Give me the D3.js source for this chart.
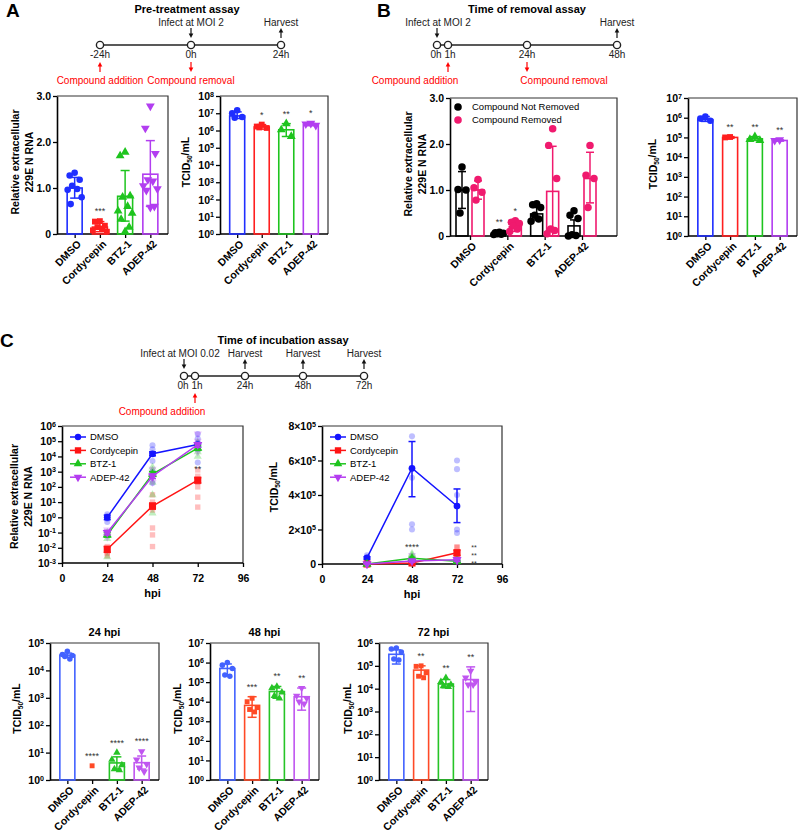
<!DOCTYPE html>
<html>
<head>
<meta charset="utf-8">
<script src="https://cdn.jsdelivr.net/npm/d3@7"></script>
<style>
  body { margin: 0; background: #fff; }
  svg { font-family: "Liberation Sans", Arial, Helvetica, sans-serif; }
</style>
</head>
<body>
<div id="fig"></div>
<script>
// ---------------- data ----------------
const treatments = ["DMSO", "Cordycepin", "BTZ-1", "ADEP-42"];
const markers = ["circle", "square", "up", "down"];
const hpi = [24, 48, 72];

// A - pre-treatment assay
const preRnaMean = [1.0, 0.15, 0.82, 1.3];
const preRnaLo = [0.78, 0.05, 0.28, 0.6];
const preRnaHi = [1.23, 0.27, 1.38, 2.03];
const preRnaPts = [
  [1.33, 1.27, 1.18, 1.05, 0.98, 0.96, 0.8, 0.65],
  [0.28, 0.27, 0.18, 0.15, 0.12, 0.08, 0.05],
  [1.78, 1.7, 0.83, 0.8, 0.6, 0.5, 0.45, 0.32, 0.15, 0.05],
  [2.78, 2.3, 1.75, 1.18, 1.15, 1.05, 0.98, 0.95, 0.6, 0.58]
];
const preRnaSig = ["", "***", "", ""];

const preTcidMean = [7e6, 1.6e6, 1.1e6, 2.2e6];
const preTcidLo = [5e6, 1.2e6, 4.5e5, 1.9e6];
const preTcidHi = [1.2e7, 2.2e6, 2.5e6, 2.6e6];
const preTcidPts = [
  [1.5e7, 1e7, 6e6, 5.5e6],
  [2.2e6, 1.7e6, 1.4e6, 1.5e6],
  [2.5e6, 1.1e6, 4.5e5],
  [2.6e6, 2.4e6, 2e6]
];
const preTcidSig = ["", "*", "**", "*"];

// B - time of removal assay
const removalGroups = ["Compound Not Removed", "Compound Removed"];
const notRemMean = [1.0, 0.05, 0.48, 0.22];
const notRemLo = [0.6, 0.03, 0.35, 0.0];
const notRemHi = [1.4, 0.07, 0.62, 0.35];
const notRemPts = [
  [1.5, 1.01, 1.0, 0.5],
  [0.08, 0.07, 0.06, 0.05, 0.04, 0.03],
  [0.7, 0.68, 0.62, 0.45, 0.37, 0.32],
  [0.55, 0.45, 0.38, 0.03, 0.01, 0.0]
];
const notRemSig = ["", "**", "", ""];
const remMean = [1.0, 0.2, 0.97, 1.25];
const remLo = [0.8, 0.1, 0.0, 0.72];
const remHi = [1.2, 0.3, 1.95, 1.82];
const remPts = [
  [1.23, 1.05, 0.95, 0.78],
  [0.33, 0.3, 0.27, 0.22, 0.15, 0.1],
  [2.33, 1.97, 1.25, 0.15, 0.12, 0.05],
  [1.97, 1.32, 1.25, 0.62]
];
const remSig = ["", "*", "", ""];

const remTcidMean = [8e5, 1e5, 8.5e4, 7e4];
const remTcidLo = [6.5e5, 9e4, 7e4, 6.5e4];
const remTcidHi = [1.15e6, 1.1e5, 1.1e5, 7.5e4];
const remTcidPts = [
  [1.15e6, 9e5, 7e5],
  [1.05e5, 1e5],
  [1.1e5, 8e4, 7e4],
  [7.5e4, 7e4]
];
const remTcidSig = ["", "**", "**", "**"];

// C - time of incubation assay, RNA kinetics
const rnaLineMean = [[1.0, 1.5e4, 6e4], [0.008, 5.5, 280], [0.07, 700, 3.5e4], [0.1, 500, 6e4]];
const rnaLineLo = [[0.7, 1.1e4, 4e4], [0.005, 3.5, 180], [0.05, 500, 2.5e4], [0.07, 350, 4e4]];
const rnaLineHi = [[1.4, 2e4, 8e4], [0.012, 8.5, 400], [0.1, 1000, 5e4], [0.14, 700, 8e4]];
const rnaLinePts = [
  [[1.6, 1.2, 0.8, 0.5], [5.5e4, 3e4, 1.5e4, 5e3, 1e3, 180], [3e5, 1.5e5, 8e4, 3e4, 4e3]],
  [[0.012, 0.008, 0.0045, 0.003], [30, 10, 3, 0.2, 0.07, 0.012], [1300, 500, 200, 100, 21, 4.7]],
  [[0.1, 0.07, 0.04, 0.0025], [2000, 1200, 600, 200, 30, 1.9], [8e4, 4e4, 2e4, 1e4]],
  [[0.15, 0.1, 0.07, 0.05], [1500, 800, 400, 200], [3e5, 1e5, 5e4, 2e4]]
];

// C - TCID50 kinetics
const tcidLineMean = [[3.6e4, 5.55e5, 3.36e5], [3.3, 6e3, 6.5e4], [4.2, 3.3e4, 1.6e4], [4.3, 1.8e4, 2.5e4]];
const tcidLineLo = [[2.8e4, 3.9e5, 2.4e5], [0, 2e3, 5e4], [1e3, 2.5e4, 1.2e4], [500, 1e4, 1.5e4]];
const tcidLineHi = [[4.2e4, 7.1e5, 4.35e5], [5, 1e4, 8e4], [5e3, 4e4, 2e4], [3e3, 2.5e4, 3.5e4]];

// C - TCID50 per harvest time
const tcid24Mean = [3.6e4, null, 4.2, 4.3];
const tcid24Lo = [3e4, null, 2.5, 2.5];
const tcid24Hi = [4.3e4, null, 7, 7.5];
const tcid24Pts = [[5e4, 3.8e4, 3.5e4, 3.2e4, 2.6e4], [3.3], [10, 5.5, 3.5, 2.5, 2.3], [11, 5.5, 3.8, 2.8, 2]];
const tcid24Sig = ["", "****", "****", "****"];

const tcid48Mean = [5e5, 6.5e3, 3.3e4, 1.8e4];
const tcid48Lo = [2.2e5, 1.6e3, 1.5e4, 3.7e3];
const tcid48Hi = [8.5e5, 1.8e4, 6e4, 5e4];
const tcid48Pts = [[1.0e6, 7.4e5, 5e5, 2.3e5, 2e5], [1.5e4, 1e4, 5e3, 4e3, 3e3], [6e4, 5e4, 3e4, 2e4, 1.5e4], [5e4, 2e4, 1.5e4, 1e4, 8e3]];
const tcid48Sig = ["", "***", "**", "**"];

const tcid72Mean = [3.2e5, 6.5e4, 1.6e4, 2.5e4];
const tcid72Lo = [1.2e5, 3.5e4, 1.1e4, 1e3];
const tcid72Hi = [5e5, 1e5, 2.5e4, 9e4];
const tcid72Pts = [[6e5, 5.5e5, 4e5, 2e5, 1.8e5], [1e5, 9.5e4, 5e4, 3.5e4, 3e4], [3e4, 2e4, 1.5e4, 1.3e4, 1.2e4], [6e4, 3e4, 2e4, 1.5e4, 1.5e4]];
const tcid72Sig = ["", "**", "**", "**"];

const tcidByHpi = [tcid24Pts, tcid48Pts, tcid72Pts];

// ---------------- styles ----------------
const colTop = ["#1f2eff", "#ff1f1f", "#1ec41e", "#b23ef0"];
const colBottom = ["#4262ff", "#ff4a26", "#26c426", "#c056f0"];
const colLine = ["#1414ff", "#ff1414", "#1ec41e", "#b43cf0"];
const colRemoval = ["#000000", "#f01a6e"];
const JIT = [0, -5, 5, -2.5, 2.5, -7, 7, -4, 4, 0];

const svg = d3.select("#fig").append("svg").attr("width", 799).attr("height", 840);

function mark(g, type, x, y, size, col, op) {
  const s = type === "circle" ? d3.symbolCircle : type === "square" ? d3.symbolSquare : d3.symbolTriangle;
  g.append("path")
    .attr("d", d3.symbol(s, size)())
    .attr("transform", `translate(${x},${y})` + (type === "down" ? " rotate(180)" : ""))
    .attr("fill", col)
    .attr("fill-opacity", op == null ? 1 : op);
}

function whisker(g, x, y0, y1, col, cap) {
  g.append("line").attr("x1", x).attr("x2", x).attr("y1", y0).attr("y2", y1)
    .attr("stroke", col).attr("stroke-width", 1.5);
  [y0, y1].forEach(v => g.append("line").attr("x1", x - cap / 2).attr("x2", x + cap / 2)
    .attr("y1", v).attr("y2", v).attr("stroke", col).attr("stroke-width", 1.5));
}

function logLabel(t, v) {
  const e = Math.round(Math.log10(v));
  t.append("tspan").text("10");
  t.append("tspan").attr("dy", "-0.5em").attr("font-size", "0.68em").text(e);
}
function linLabel(t, v) { t.text(v === 0 ? "0" : v.toFixed(1)); }
function sciLabel(t, v) {
  if (v === 0) { t.text("0"); return; }
  t.append("tspan").text((v / 1e5) + "\u00d710");
  t.append("tspan").attr("dy", "-0.5em").attr("font-size", "0.68em").text("5");
}

function tcidTitle(g, x, y) {
  const t = g.append("text").attr("transform", `translate(${x},${y}) rotate(-90)`)
    .attr("text-anchor", "middle").attr("font-weight", "bold").attr("font-size", 10.5);
  t.append("tspan").text("TCID");
  t.append("tspan").attr("dy", "0.3em").attr("font-size", "0.62em").text("50");
  t.append("tspan").attr("dy", "-0.3em").text("/mL");
}
function rnaTitle(g, x1, x2, y) {
  ["Relative extracellular", "229E N RNA"].forEach((s, i) =>
    g.append("text").attr("transform", `translate(${i ? x2 : x1},${y}) rotate(-90)`)
      .attr("text-anchor", "middle").attr("font-weight", "bold").attr("font-size", 10.5).text(s));
}

function frame(g, w, h) {
  g.append("path").attr("d", `M0,0H${w}V${h}`).attr("fill", "none")
    .attr("stroke", "#333").attr("stroke-width", 1.2);
  g.append("line").attr("x1", 0).attr("x2", w).attr("y1", h).attr("y2", h)
    .attr("stroke", "#000").attr("stroke-width", 1.6);
}

function leftAxis(g, y, ticks, fmt) {
  const a = g.append("g").call(d3.axisLeft(y).tickValues(ticks).tickSize(4).tickSizeOuter(0).tickFormat(""));
  a.select(".domain").attr("stroke", "#000").attr("stroke-width", 1.6);
  a.selectAll(".tick line").attr("stroke", "#000").attr("stroke-width", 1.3);
  a.selectAll(".tick").each(function (d) {
    const t = d3.select(this).append("text").attr("x", -6).attr("dy", "0.35em")
      .attr("text-anchor", "end").attr("font-weight", "bold").attr("font-size", 10.5).attr("fill", "#000");
    fmt(t, d);
  });
}

// bar + scatter chart with one or two series per treatment
function barChart(o) {
  const g = svg.append("g").attr("transform", `translate(${o.left},${o.top})`);
  const x = d3.scalePoint().domain(treatments).range(o.xRange || [0, o.w]).padding(o.xRange ? 0 : 0.7);
  const y = o.log ? d3.scaleLog().domain(o.domain).range([o.h, 0])
                  : d3.scaleLinear().domain(o.domain).range([o.h, 0]);
  frame(g, o.w, o.h);
  leftAxis(g, y, o.ticks, o.fmt);

  const xa = g.append("g").attr("transform", `translate(0,${o.h})`)
    .call(d3.axisBottom(x).tickSize(4).tickSizeOuter(0).tickFormat(""));
  xa.select(".domain").remove();
  xa.selectAll(".tick line").attr("stroke", "#000").attr("stroke-width", 1.3);
  xa.selectAll(".tick").append("text")
    .attr("transform", "translate(4,8) rotate(-45)").attr("text-anchor", "end").attr("dy", "0.35em")
    .attr("font-weight", "bold").attr("font-size", 10.5).attr("fill", "#000").text(d => d);

  const lowest = o.domain[0];
  o.series.forEach(s => {
    treatments.forEach((c, i) => {
      const cx = x(c) + (s.dx || 0);
      const col = s.colors ? s.colors[i] : s.color;
      const mk = s.markers ? s.markers[i] : "circle";
      if (s.mean[i] != null) {
        const yt = y(s.mean[i]);
        g.append("rect").attr("x", cx - s.bw / 2).attr("y", yt).attr("width", s.bw)
          .attr("height", o.h - yt).attr("fill", "none").attr("stroke", col).attr("stroke-width", 1.6);
        whisker(g, cx, y(Math.max(s.lo[i], lowest)), y(s.hi[i]), col, s.cap || 9);
      }
      s.pts[i].forEach((v, k) => mark(g, mk, cx + JIT[k % JIT.length] * (s.jit || 1),
        y(Math.max(v, lowest)), s.size, col));
      if (s.sig[i]) {
        const top = d3.max([s.hi[i] || 0, d3.max(s.pts[i])]);
        g.append("text").attr("x", cx).attr("y", y(top) - 7).attr("text-anchor", "middle")
          .attr("font-size", 9).attr("fill", "#333").text(s.sig[i]);
      }
    });
  });

  if (o.ylab === "tcid") tcidTitle(g, o.ylabX, o.h / 2 - 3);
  else rnaTitle(g, o.ylabX, o.ylabX + 14, o.h / 2 - 3);
  if (o.title) g.append("text").attr("x", o.w / 2).attr("y", -7).attr("text-anchor", "middle")
    .attr("font-weight", "bold").attr("font-size", 11).text(o.title);
  return { g, x, y };
}

// kinetics line chart
function lineChart(o) {
  const g = svg.append("g").attr("transform", `translate(${o.left},${o.top})`);
  const x = d3.scaleLinear().domain([0, 96]).range([0, o.w]);
  const y = o.log ? d3.scaleLog().domain(o.domain).range([o.h, 0])
                  : d3.scaleLinear().domain(o.domain).range([o.h, 0]);
  const clipId = "clip" + o.left;
  g.append("clipPath").attr("id", clipId).append("rect").attr("x", -6).attr("y", -2)
    .attr("width", o.w + 12).attr("height", o.h + 8);
  frame(g, o.w, o.h);
  leftAxis(g, y, o.ticks, o.fmt);
  const xa = g.append("g").attr("transform", `translate(0,${o.h})`)
    .call(d3.axisBottom(x).tickValues([0, 24, 48, 72, 96]).tickSize(4).tickSizeOuter(0));
  xa.select(".domain").remove();
  xa.selectAll(".tick line").attr("stroke", "#000").attr("stroke-width", 1.3);
  xa.selectAll(".tick text").attr("font-weight", "bold").attr("font-size", 10.5)
    .attr("font-family", "inherit").attr("fill", "#000").attr("dy", "1.1em");
  g.append("text").attr("x", x(48)).attr("y", o.h + 34).attr("text-anchor", "middle")
    .attr("font-weight", "bold").attr("font-size", 11).text("hpi");

  const lo = o.domain[0];
  const body = g.append("g").attr("clip-path", `url(#${clipId})`);
  // faded replicate points
  treatments.forEach((c, i) => {
    hpi.forEach((h, j) => o.pts(i, j).forEach(v =>
      mark(body, markers[i], x(h), y(Math.max(v, lo)), o.size * 0.8, colLine[i], 0.28)));
  });
  treatments.forEach((c, i) => {
    const line = d3.line().x((d, j) => x(hpi[j])).y(d => y(Math.max(d, lo)));
    body.append("path").attr("d", line(o.mean[i])).attr("fill", "none")
      .attr("stroke", colLine[i]).attr("stroke-width", 1.5);
    hpi.forEach((h, j) => {
      whisker(body, x(h), y(Math.max(o.lo[i][j], lo)), y(o.hi[i][j]), colLine[i], 7);
      mark(body, markers[i], x(h), y(Math.max(o.mean[i][j], lo)), i === 1 ? o.size * 1.4 : o.size, colLine[i]);
    });
  });
  // legend
  treatments.forEach((c, i) => {
    const ly = 11 + i * 13.4;
    g.append("line").attr("x1", 8).attr("x2", 24).attr("y1", ly).attr("y2", ly)
      .attr("stroke", colLine[i]).attr("stroke-width", 1.5);
    mark(g, markers[i], 16, ly, i === 1 ? 40 : 32, colLine[i]);
    g.append("text").attr("x", 28).attr("y", ly).attr("dy", "0.35em").attr("font-size", 9.5).text(c);
  });
  if (o.ylab === "tcid") tcidTitle(g, o.ylabX, o.h / 2 - 8);
  else rnaTitle(g, o.ylabX, o.ylabX + 14, o.h / 2 + 2);
  return { g, x, y };
}

// experiment timelines
function arrow(g, x, ya, yb, up, col) {
  g.append("line").attr("x1", x).attr("x2", x).attr("y1", up ? yb : ya).attr("y2", up ? ya + 3 : yb - 3)
    .attr("stroke", col).attr("stroke-width", 1.2);
  const tip = up ? ya : yb, s = up ? 1 : -1;
  g.append("path").attr("d", `M${x},${tip}L${x - 2.3},${tip + 4.5 * s}L${x + 2.3},${tip + 4.5 * s}Z`).attr("fill", col);
}

function timeline(c) {
  const g = svg.append("g");
  const t = d3.scaleLinear().domain(c.hours).range(c.pos);
  const y0 = c.y;
  g.append("text").attr("x", c.titleX).attr("y", y0 - 32).attr("text-anchor", "middle")
    .attr("font-weight", "bold").attr("font-size", 11).text(c.title);
  g.append("line").attr("x1", t(c.hours[0])).attr("x2", t(c.hours[c.hours.length - 1]))
    .attr("y1", y0).attr("y2", y0).attr("stroke", "#222").attr("stroke-width", 1.4);
  g.selectAll("circle").data(c.hours).join("circle").attr("cx", d => t(d)).attr("cy", y0).attr("r", 3.6)
    .attr("fill", "#fff").attr("stroke", "#222").attr("stroke-width", 1.4);
  g.selectAll("text.h").data(c.hours).join("text").attr("class", "h")
    .attr("x", (d, i) => t(d) + (c.labelDx ? c.labelDx[i] : 0)).attr("y", y0 + 13)
    .attr("text-anchor", "middle").attr("font-size", 10).attr("fill", "#222").text(d => d + "h");
  c.top.forEach(a => {
    arrow(g, t(a.h), y0 - 17, y0 - 7, a.up, "#111");
    g.append("text").attr("x", t(a.h) + (a.dx || 0)).attr("y", y0 - 19).attr("text-anchor", "middle")
      .attr("font-size", 10).attr("fill", "#222").text(a.text);
  });
  c.bottom.forEach(a => {
    arrow(g, t(a.h), y0 + 17, y0 + 27, a.up, "#ff0000");
    g.append("text").attr("x", t(a.h) + (a.dx || 0)).attr("y", y0 + 39).attr("text-anchor", "middle")
      .attr("font-size", 10).attr("fill", "#ff0000").text(a.text);
  });
}

// panel letters
[["A", 6, 17], ["B", 377, 17], ["C", 0, 347]].forEach(([s, x, y]) =>
  svg.append("text").attr("x", x).attr("y", y).attr("font-weight", "bold").attr("font-size", 19).text(s));

// ---------------- panel A ----------------
timeline({
  title: "Pre-treatment assay", titleX: 187, y: 45,
  hours: [-24, 0, 24], pos: [100, 191, 281],
  top: [{ h: 0, text: "Infect at MOI 2" }, { h: 24, text: "Harvest", up: true }],
  bottom: [{ h: -24, text: "Compound addition", up: true }, { h: 0, text: "Compound removal" }]
});

barChart({
  left: 57, top: 96, w: 111, h: 138, log: false, domain: [0, 3], ticks: [0, 1, 2, 3], fmt: linLabel,
  ylab: "rna", ylabX: -38,
  series: [{ mean: preRnaMean, lo: preRnaLo, hi: preRnaHi, pts: preRnaPts, sig: preRnaSig,
             colors: colTop, markers, bw: 15, size: 34 }]
});
barChart({
  left: 220, top: 96, w: 108, h: 138, log: true, domain: [1, 1e8], ticks: d3.range(0, 9).map(e => 10 ** e),
  fmt: logLabel, ylab: "tcid", ylabX: -30,
  series: [{ mean: preTcidMean, lo: preTcidLo, hi: preTcidHi, pts: preTcidPts, sig: preTcidSig,
             colors: colTop, markers, bw: 15, size: 34 }]
});

// ---------------- panel B ----------------
timeline({
  title: "Time of removal assay", titleX: 527, y: 45,
  hours: [0, 1, 24, 48], pos: [437, 448, 527, 617], labelDx: [-1, 2, 0, 0],
  top: [{ h: 0, text: "Infect at MOI 2", dx: 1 }, { h: 48, text: "Harvest", up: true }],
  bottom: [{ h: 1, text: "Compound addition", up: true, dx: -33 }, { h: 24, text: "Compound removal", dx: 37 }]
});

const b1 = barChart({
  left: 450, top: 98, w: 167, h: 138, log: false, domain: [0, 3], ticks: [0, 1, 2, 3], fmt: linLabel,
  xRange: [20, 132], ylab: "rna", ylabX: -38,
  series: [
    { mean: notRemMean, lo: notRemLo, hi: notRemHi, pts: notRemPts, sig: notRemSig,
      color: colRemoval[0], dx: -8, bw: 12, size: 44, cap: 8, jit: 0.8 },
    { mean: remMean, lo: remLo, hi: remHi, pts: remPts, sig: remSig,
      color: colRemoval[1], dx: 8, bw: 12, size: 44, cap: 8, jit: 0.8 }
  ]
});
removalGroups.forEach((s, i) => {
  b1.g.append("circle").attr("cx", 8).attr("cy", 9 + i * 13).attr("r", 3.8).attr("fill", colRemoval[i]);
  b1.g.append("text").attr("x", 22).attr("y", 9 + i * 13).attr("dy", "0.35em").attr("font-size", 9.5).text(s);
});

barChart({
  left: 688, top: 98, w: 109, h: 138, log: true, domain: [1, 1e7], ticks: d3.range(0, 8).map(e => 10 ** e),
  fmt: logLabel, ylab: "tcid", ylabX: -31,
  series: [{ mean: remTcidMean, lo: remTcidLo, hi: remTcidHi, pts: remTcidPts, sig: remTcidSig,
             colors: colTop, markers, bw: 15, size: 34 }]
});

// ---------------- panel C ----------------
timeline({
  title: "Time of incubation assay", titleX: 283, y: 376,
  hours: [0, 1, 24, 48, 72], pos: [184, 195, 245, 303, 364], labelDx: [-1, 2, 0, 0, 0],
  top: [{ h: 0, text: "Infect at MOI 0.02", dx: -4 }, { h: 24, text: "Harvest", up: true },
        { h: 48, text: "Harvest", up: true }, { h: 72, text: "Harvest", up: true }],
  bottom: [{ h: 1, text: "Compound addition", up: true, dx: -33 }]
});

const c1 = lineChart({
  left: 62, top: 426, w: 181, h: 137, log: true, domain: [1e-3, 1e6],
  ticks: d3.range(-3, 7).map(e => 10 ** e), fmt: logLabel, ylab: "rna", ylabX: -44, size: 36,
  mean: rnaLineMean, lo: rnaLineLo, hi: rnaLineHi, pts: (i, j) => rnaLinePts[i][j]
});
c1.g.append("text").attr("x", c1.x(72)).attr("y", c1.y(1e3)).attr("text-anchor", "middle")
  .attr("font-size", 9).attr("fill", "#333").text("**");

const c2 = lineChart({
  left: 322, top: 426, w: 180, h: 138, log: false, domain: [0, 8e5],
  ticks: [0, 2e5, 4e5, 6e5, 8e5], fmt: sciLabel, ylab: "tcid", ylabX: -44, size: 36,
  mean: tcidLineMean, lo: tcidLineLo, hi: tcidLineHi, pts: (i, j) => tcidByHpi[j][i]
});
c2.g.append("text").attr("x", c2.x(48)).attr("y", c2.y(4e4) - 7).attr("text-anchor", "middle")
  .attr("font-size", 9).attr("fill", "#333").text("****");
// one significance mark per compound at 72 hpi, stacked beside the points
[1, 2, 3].forEach((i, k) => c2.g.append("text").attr("x", c2.x(72) + 17).attr("y", c2.y(0) - 14 + k * 8.2)
  .attr("text-anchor", "middle").attr("font-size", 7).attr("fill", "#333").text(tcid72Sig[i]));

// per-harvest TCID50
[
  { left: 50, title: "24 hpi", top10: 5, mean: tcid24Mean, lo: tcid24Lo, hi: tcid24Hi, pts: tcid24Pts, sig: tcid24Sig, ylabX: -29 },
  { left: 210, title: "48 hpi", top10: 7, mean: tcid48Mean, lo: tcid48Lo, hi: tcid48Hi, pts: tcid48Pts, sig: tcid48Sig, ylabX: -28 },
  { left: 379, title: "72 hpi", top10: 6, mean: tcid72Mean, lo: tcid72Lo, hi: tcid72Hi, pts: tcid72Pts, sig: tcid72Sig, ylabX: -27 }
].forEach(p => barChart({
  left: p.left, top: 643, w: 109, h: 137, log: true, domain: [1, 10 ** p.top10],
  ticks: d3.range(0, p.top10 + 1).map(e => 10 ** e), fmt: logLabel, ylab: "tcid", ylabX: p.ylabX, title: p.title,
  series: [{ mean: p.mean, lo: p.lo, hi: p.hi, pts: p.pts, sig: p.sig,
             colors: colBottom, markers, bw: 15, size: 24 }]
}));
</script>
</body>
</html>
